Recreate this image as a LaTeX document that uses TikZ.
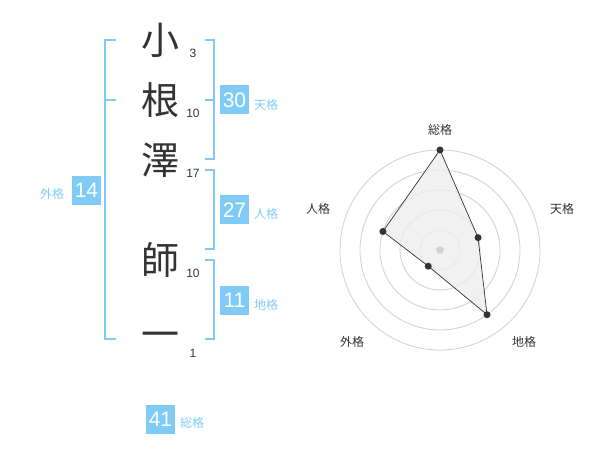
\documentclass[tikz,border=0pt]{standalone}
\usepackage{fontspec}
\setmainfont{Liberation Sans}
\newfontfamily\jp{Noto Sans CJK JP}
\definecolor{kakublue}{HTML}{7FCBF5}
\definecolor{inkgray}{HTML}{333333}
\definecolor{ringgray}{HTML}{D0D0D0}
\tikzstyle{kanji} = [inner sep=0pt, 
font=\jp\fontsize{38}{38}\selectfont, 
text=inkgray]
\tikzstyle{strokes} = [inner sep=0pt, 
font=\fontsize{12}{12}\selectfont, 
text=inkgray]
\tikzstyle{badge} = [rectangle, 
minimum width=29pt, 
minimum height=29pt, 
inner sep=0pt, 
text centered, 
fill=kakublue, 
text=white, 
font=\fontsize{21}{21}\selectfont]
\tikzstyle{kaku} = [inner sep=0pt, 
font=\jp\fontsize{12}{12}\selectfont, 
text=kakublue]
\tikzstyle{axis} = [inner sep=0pt, 
font=\jp\fontsize{12}{12}\selectfont, 
text=inkgray]
\tikzstyle{bracket} = [draw=kakublue, line width=2pt]
\tikzstyle{ring} = [draw=ringgray, line width=0.8pt]
\tikzstyle{dot} = [circle, inner sep=0pt, minimum size=7pt, fill=inkgray]
\begin{document}
\begin{tikzpicture}[x=1pt, y=-1pt, node distance=60pt]
\useasboundingbox (0,0) rectangle (600,470);

\node (c1) [kanji] at (160,40) {小};
\node (c2) [kanji, below of=c1] {根};
\node (c3) [kanji, below of=c2] {澤};
\node (c4) [kanji, below of=c3, yshift=-40pt] {師};
\node (c5) [kanji, below of=c4, yshift=-20pt] {一};

\node (n1) [strokes, right of=c1, node distance=33pt, yshift=-13pt] {3};
\node (n2) [strokes, right of=c2, node distance=33pt, yshift=-13pt] {10};
\node (n3) [strokes, right of=c3, node distance=33pt, yshift=-13pt] {17};
\node (n4) [strokes, right of=c4, node distance=33pt, yshift=-13pt] {10};
\node (n5) [strokes, right of=c5, node distance=33pt, yshift=-13pt] {1};

% brackets
\draw [bracket] (116,40) -- (105,40) -- (105,339.5) -- (116,339.5);
\draw [bracket] (105,100) -- (116,100);
\draw [bracket] (205,40) -- (214,40) -- (214,159.5) -- (205,159.5);
\draw [bracket] (205,100) -- (214,100);
\draw [bracket] (205,170) -- (214,170) -- (214,249.5) -- (205,249.5);
\draw [bracket] (205,260) -- (214,260) -- (214,339.5) -- (205,339.5);

\node (b30) [badge] at (234.5,100) {30};
\node (l30) [kaku, right of=b30, node distance=31.5pt, yshift=-4.5pt] {天格};
\node (b27) [badge] at (234.5,210) {27};
\node (l27) [kaku, right of=b27, node distance=31.5pt, yshift=-4pt] {人格};
\node (b11) [badge] at (234.5,300.5) {11};
\node (l11) [kaku, right of=b11, node distance=31.5pt, yshift=-4pt] {地格};
\node (b14) [badge] at (86.5,190.5) {14};
\node (l14) [kaku, left of=b14, node distance=34.5pt, yshift=-3.5pt] {外格};
\node (b41) [badge] at (160.5,419.5) {41};
\node (l41) [kaku, right of=b41, node distance=31.5pt, yshift=-3.5pt] {総格};

% radar
\begin{scope}[shift={(440,250)}]
\coordinate (ctr) at (0,0);
\draw [ring] (ctr) circle (20);
\draw [ring] (ctr) circle (40);
\draw [ring] (ctr) circle (60);
\draw [ring] (ctr) circle (80);
\draw [ring] (ctr) circle (100);

\coordinate (psou) at (-90:100);
\coordinate (pten) at (-18:40);
\coordinate (pchi) at (54:80);
\coordinate (pgai) at (126:20);
\coordinate (pjin) at (198:60);
\filldraw [fill=black!7, fill opacity=0.8, draw=inkgray, line width=0.7pt] 
  (psou) -- (pten) -- (pchi) -- (pgai) -- (pjin) -- cycle;
\fill [ringgray] (ctr) circle (3.8);
\node (dsou) [dot] at (psou) {};
\node (dten) [dot] at (pten) {};
\node (dchi) [dot] at (pchi) {};
\node (dgai) [dot] at (pgai) {};
\node (djin) [dot] at (pjin) {};

\node (asou) [axis] at (0,-120) {総格};
\node (aten) [axis] at (122,-41) {天格};
\node (achi) [axis] at (84,92) {地格};
\node (agai) [axis] at (-88,92) {外格};
\node (ajin) [axis] at (-122,-41) {人格};
\end{scope}

\end{tikzpicture}
\end{document}
